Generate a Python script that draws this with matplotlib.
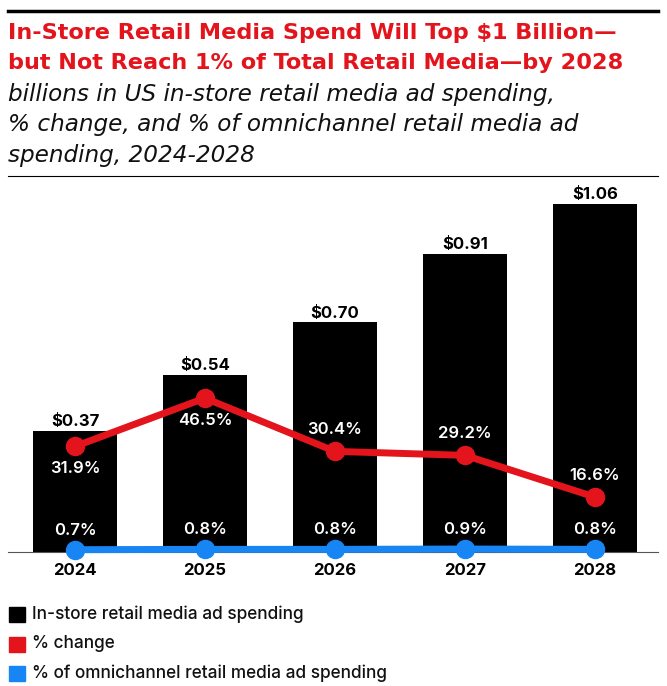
import matplotlib.pyplot as plt
from matplotlib.patches import Rectangle

# data
years = ['2024', '2025', '2026', '2027', '2028']
spend = [0.37, 0.54, 0.70, 0.91, 1.06]          # billions
pct_change = [31.9, 46.5, 30.4, 29.2, 16.6]       # %
pct_omni = [0.7, 0.8, 0.8, 0.9, 0.8]              # %
change_above = [False, False, True, True, True]   # label placement for % change

RED = '#E3141B'
BLUE = '#1785F4'
W, H = 667, 686

plt.rcParams['font.family'] = ['Inter', 'DejaVu Sans']

fig = plt.figure(figsize=(W / 100, H / 100), dpi=100)


def fy(py):
    return 1 - py / H


# header rules
fig.add_artist(plt.Line2D([8 / W, 658 / W], [fy(11), fy(11)], color='black', lw=2.5))
fig.add_artist(plt.Line2D([8 / W, 658 / W], [fy(176), fy(176)], color='black', lw=0.8))

# title and subtitle
fig.text(8 / W, fy(39), 'In-Store Retail Media Spend Will Top $1 Billion\u2014',
         color=RED, fontsize=16.1, fontweight='bold', va='baseline', family='DejaVu Sans')
fig.text(8 / W, fy(69), 'but Not Reach 1% of Total Retail Media\u2014by 2028',
         color=RED, fontsize=16.1, fontweight='bold', va='baseline', family='DejaVu Sans')
sub = ['billions in US in-store retail media ad spending,',
       '% change, and % of omnichannel retail media ad',
       'spending, 2024-2028']
for i, line in enumerate(sub):
    fig.text(8 / W, fy(101 + 30.5 * i), line, fontsize=16.7, style='italic',
             va='baseline', color='#111111', family='DejaVu Sans')

# plot area
base_px, top_px = 552, 190
ax = fig.add_axes([8 / W, (H - base_px) / H, 650 / W, (base_px - top_px) / H])
x = list(range(len(years)))
ytop = (base_px - top_px) / 328
ax.bar(x, spend, width=0.646, color='black', zorder=1)
ax.set_xlim(-0.515, 4.485)
ax.set_ylim(0, ytop)
for xi, v in zip(x, spend):
    ax.annotate(f'${v:.2f}', (xi, v), xytext=(0, 3.5), textcoords='offset points',
                ha='center', va='baseline', fontsize=12, fontweight='bold', color='black')

ax.set_yticks([])
ax.set_xticks(x)
ax.set_xticklabels(years, fontsize=12, fontweight='bold')
ax.tick_params(axis='x', length=0, pad=8)
for s in ['top', 'left', 'right']:
    ax.spines[s].set_visible(False)
ax.spines['bottom'].set_color('#555555')
ax.spines['bottom'].set_linewidth(0.8)

ax2 = ax.twinx()
ax2.set_ylim(0, ytop * 99.1)
ax2.set_yticks([])
for s in ax2.spines.values():
    s.set_visible(False)
ax2.plot(x, pct_change, color=RED, lw=5, marker='o', ms=13, zorder=3, clip_on=False)
ax2.plot(x, pct_omni, color=BLUE, lw=5, marker='o', ms=13, zorder=3, clip_on=False)

for xi, v, above in zip(x, pct_change, change_above):
    off = 15.5 if above else -16
    ax2.annotate(f'{v}%', (xi, v), xytext=(0, off), textcoords='offset points',
                 ha='center', va='center', fontsize=12, fontweight='semibold', color='white')
for xi, v in zip(x, pct_omni):
    ax2.annotate(f'{v}%', (xi, v), xytext=(0, 14), textcoords='offset points',
                 ha='center', va='center', fontsize=12, fontweight='semibold', color='white')

# legend
items = [('black', 'In-store retail media ad spending'),
         (RED, '% change'),
         (BLUE, '% of omnichannel retail media ad spending')]
for i, (c, lab) in enumerate(items):
    cy = 614.5 + 29.5 * i
    fig.add_artist(Rectangle((8.5 / W, fy(cy + 7.5)), 16 / W, 15 / H,
                             color=c, transform=fig.transFigure))
    fig.text(32 / W, fy(cy), lab, fontsize=12.4, fontweight='medium',
             va='center', color='#111111')

fig.savefig('out.png', dpi=100)
